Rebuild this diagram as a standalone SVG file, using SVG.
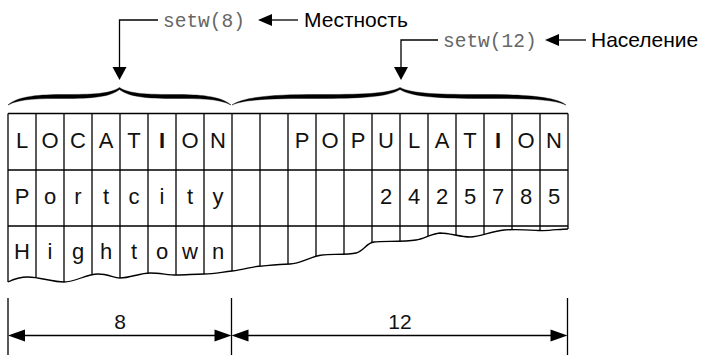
<svg xmlns="http://www.w3.org/2000/svg" width="703" height="355" viewBox="0 0 703 355">
<style>
.bg{fill:#ffffff}
.ln{stroke:#000;stroke-width:1.3;fill:none}
.hl{stroke:#000;stroke-width:1.6;fill:none}
.c{font-family:"Liberation Sans",Arial,sans-serif;font-size:22px;fill:#111;text-anchor:middle}
.d{font-family:"Liberation Sans",Arial,sans-serif;font-size:21px;fill:#111;text-anchor:middle}
.b{font-weight:bold}
.mono{font-family:"Liberation Mono","Courier New",monospace;font-size:19.5px;fill:#666}
.lab{font-family:"Liberation Sans",Arial,sans-serif;font-size:21px;fill:#000}
.brace{fill:#000;stroke:#000;stroke-width:0.4}
.ah{fill:#000}
</style>
<defs>
<clipPath id="tableClip">
<path d="M0,282 L8,282 C14,279 20,277 28,277 C40,277 52,282 64,282 C76,282 86,274 98,274 C108,274 114,278 120,278 C130,278 140,273 150,273 C160,273 168,275 177,275 C186,275 194,274 204,274 C214,274 222,272 232,271 C245,270 252,266 262,266 C272,265 280,264 290,264 C300,264 312,256 322,255 C330,254 348,255 356,253 C364,251 366,243 374,242 C384,241 404,242 416,240 C424,239 430,234 440,233 C450,233 460,237 470,237 C480,237 492,231 504,230 C516,229 530,230 540,230.5 C550,231 560,229 568,229 L576,229 L576,100 L0,100 Z"/>
</clipPath>
</defs>
<rect class="bg" x="0" y="0" width="703" height="355"/>

<g id="table">
<g clip-path="url(#tableClip)" class="ln">
<path d="M8,113.5V300 M36,113.5V300 M64,113.5V300 M92,113.5V300 M120,113.5V300 M148,113.5V300 M176,113.5V300 M204,113.5V300 M232,113.5V300 M260,113.5V300 M288,113.5V300 M316,113.5V300 M344,113.5V300 M372,113.5V300 M400,113.5V300 M428,113.5V300 M456,113.5V300 M484,113.5V300 M512,113.5V300 M540,113.5V300 M568,113.5V300"/>
</g>
<path class="hl" d="M8,113.5H568 M8,170H568 M8,226H568"/>
<path class="ln" d="M8,282 C14,279 20,277 28,277 C40,277 52,282 64,282 C76,282 86,274 98,274 C108,274 114,278 120,278 C130,278 140,273 150,273 C160,273 168,275 177,275 C186,275 194,274 204,274 C214,274 222,272 232,271 C245,270 252,266 262,266 C272,265 280,264 290,264 C300,264 312,256 322,255 C330,254 348,255 356,253 C364,251 366,243 374,242 C384,241 404,242 416,240 C424,239 430,234 440,233 C450,233 460,237 470,237 C480,237 492,231 504,230 C516,229 530,230 540,230.5 C550,231 560,229 568,229"/>
</g>

<g id="row1">
<text class="c" x="22" y="148">L</text>
<text class="c" x="50" y="148">O</text>
<text class="c" x="78" y="148">C</text>
<text class="c" x="106" y="148">A</text>
<text class="c" x="134" y="148">T</text>
<text class="c b" x="162" y="148">I</text>
<text class="c" x="190" y="148">O</text>
<text class="c" x="218" y="148">N</text>
<text class="c" x="302" y="148">P</text>
<text class="c" x="330" y="148">O</text>
<text class="c" x="358" y="148">P</text>
<text class="c" x="386" y="148">U</text>
<text class="c" x="414" y="148">L</text>
<text class="c" x="442" y="148">A</text>
<text class="c" x="470" y="148">T</text>
<text class="c b" x="498" y="148">I</text>
<text class="c" x="526" y="148">O</text>
<text class="c" x="554" y="148">N</text>
</g>

<g id="row2">
<text class="c" x="22" y="203.5">P</text>
<text class="c" x="50" y="203.5">o</text>
<text class="c" x="78" y="203.5">r</text>
<text class="c" x="106" y="203.5">t</text>
<text class="c" x="134" y="203.5">c</text>
<text class="c" x="162" y="203.5">i</text>
<text class="c" x="190" y="203.5">t</text>
<text class="c" x="218" y="203.5">y</text>
<text class="c" x="386" y="203.5">2</text>
<text class="c" x="414" y="203.5">4</text>
<text class="c" x="442" y="203.5">2</text>
<text class="c" x="470" y="203.5">5</text>
<text class="c" x="498" y="203.5">7</text>
<text class="c" x="526" y="203.5">8</text>
<text class="c" x="554" y="203.5">5</text>
</g>

<g id="row3">
<text class="c" x="22" y="259">H</text>
<text class="c" x="50" y="259">i</text>
<text class="c" x="78" y="259">g</text>
<text class="c" x="106" y="259">h</text>
<text class="c" x="134" y="259">t</text>
<text class="c" x="162" y="259">o</text>
<text class="c" x="190" y="259">w</text>
<text class="c" x="218" y="259">n</text>
</g>

<g id="brace-location">
<path class="brace" d="M8,105 C18,96 40,94.5 64,94.5 C92,94.5 110,94 119.5,87.5 C129,94 147,94.5 175,94.5 C199,94.5 221,96 231,105 C219,98.5 199,98.5 175,98.5 C147,98.5 129,97 119.5,89.5 C110,97 92,98.5 64,98.5 C40,98.5 20,98.5 8,105 Z"/>
</g>
<g id="brace-population">
<path class="brace" d="M232,105 C245,96 280,94.5 316,94.5 C360,94.5 388,94 400,87.5 C412,94 440,94.5 484,94.5 C520,94.5 555,96 566,105 C552,98.5 520,98.5 484,98.5 C440,98.5 412,97 400,89.5 C388,97 360,98.5 316,98.5 C280,98.5 246,98.5 232,105 Z"/>
</g>

<g id="label-setw8">
<text class="mono" x="163" y="26.5">setw(8)</text>
<text class="lab" x="304" y="26.5">Местность</text>
</g>
<g id="label-setw12">
<text class="mono" x="443" y="46.5">setw(12)</text>
<text class="lab" x="591" y="47">Население</text>
</g>

<g id="dim-8">
<text class="d" x="120" y="329">8</text>
</g>
<g id="dim-12">
<text class="d" x="400" y="329">12</text>
</g>

<g id="connectors">
<polyline class="ln" points="158,20 119.5,20 119.5,70"/>
<polygon class="ah" points="112.5,67 126.5,67 119.5,80"/>
<line class="ln" x1="298" y1="20" x2="268" y2="20"/>
<polygon class="ah" points="258,20 272,14 272,26"/>
<polyline class="ln" points="438,40 401,40 401,70"/>
<polygon class="ah" points="394,67 408,67 401,80"/>
<line class="ln" x1="586" y1="40" x2="555" y2="40"/>
<polygon class="ah" points="545,40 559,34 559,46"/>
<path class="ln" d="M8,298V355 M231.5,298V355 M567.5,298V355"/>
<line class="ln" x1="20" y1="335.5" x2="220" y2="335.5"/>
<line class="ln" x1="243" y1="335.5" x2="556" y2="335.5"/>
<polygon class="ah" points="8,335.5 25,329.5 25,341.5"/>
<polygon class="ah" points="231.5,335.5 214.5,329.5 214.5,341.5"/>
<polygon class="ah" points="231.5,335.5 248.5,329.5 248.5,341.5"/>
<polygon class="ah" points="567.5,335.5 550.5,329.5 550.5,341.5"/>
</g>
</svg>
